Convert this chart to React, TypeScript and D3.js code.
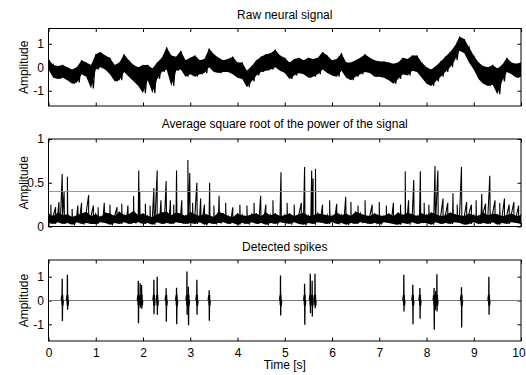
import { useEffect, useRef } from 'react'
import * as d3 from 'd3'

// sampling step of the envelope arrays below (seconds)
const BIN = 0.1

const xTicks = [0, 1, 2, 3, 4, 5, 6, 7, 8, 9, 10]
const ampTicks = [-1, 0, 1]
const powerTicks = [0, 0.5, 1]
const THRESHOLD = 0.4

// Raw neural signal: upper / lower edge of the trace per 0.1 s bin
const rawHi = [
  0.35, 0.1, 0.05, 0.1, 0.0, -0.1, 0.0, 0.3, 0.2, 0.1,
  0.55, 0.65, 0.5, 0.4, 0.1, 0.2, 0.55, 0.3, 0.1, 0.0,
  0.1, 0.1, -0.05, 0.2, 0.4, 0.85, 0.5, 0.45, 0.7, 0.3,
  0.4, 0.5, 0.3, 0.35, 0.8, 0.55, 0.4, 0.3, 0.35, 0.45,
  0.2, 0.2, -0.15, 0.05, 0.3, 0.45, 0.55, 0.6, 0.75, 0.5,
  0.4, 0.2, 0.35, 0.4, 0.3, 0.4, 0.35, 0.4, 0.65, 0.5,
  0.3, 0.35, 0.6, 0.2, 0.2, 0.3, 0.4, 0.55, 0.4, 0.3,
  0.25, 0.25, 0.2, 0.15, 0.2, 0.4, 0.35, 0.5, 0.5, 0.2,
  0.0, -0.1, 0.05, 0.25, 0.45, 0.65, 0.9, 1.3, 1.2, 0.85,
  0.5, 0.2, 0.05, 0.0, 0.1, -0.05, 0.1, 0.4, 0.2, 0.15,
  0.2,
]
const rawLo = [
  -0.1, -0.45, -0.5, -0.45, -0.55, -0.7, -0.65, -0.3, -0.4, -0.9,
  -0.1, 0.0, -0.1, -0.3, -0.6, -0.55, -0.2, -0.4, -0.6, -0.8,
  -1.1, -0.55, -1.1, -0.5, -0.2, -0.1, -0.8, -0.15, -0.1, -0.4,
  -0.3, -0.4, -0.3, -0.25, 0.0, -0.2, -0.25, -0.2, -0.2, -0.3,
  -0.45, -0.5, -0.85, -0.6, -0.35, -0.2, -0.15, -0.1, 0.0, -0.15,
  -0.25, -0.5, -0.35, -0.25, -0.3, -0.45, -0.4, -0.3, -0.1, -0.25,
  -0.35, -0.4, -0.15, -0.45, -0.55, -0.4, -0.3, -0.2, -0.25, -0.4,
  -0.4, -0.45, -0.55, -0.7, -0.5, -0.3, -0.35, -0.15, -0.2, -0.45,
  -0.7, -0.8, -0.6, -0.4, -0.2, 0.0, 0.3, 0.7, 0.6, 0.2,
  -0.1, -0.5, -0.7, -0.8, -0.75, -1.15, -0.6, -0.2, -0.3, -0.45,
  -0.4,
]

// Power signal: dense background band per 0.1 s bin
const powerHi = [
  0.15, 0.12, 0.16, 0.13, 0.14, 0.11, 0.13, 0.15, 0.17, 0.12,
  0.14, 0.11, 0.16, 0.15, 0.12, 0.17, 0.13, 0.14, 0.18, 0.13,
  0.15, 0.12, 0.11, 0.14, 0.16, 0.17, 0.13, 0.16, 0.15, 0.12,
  0.17, 0.14, 0.12, 0.15, 0.13, 0.11, 0.17, 0.15, 0.12, 0.11,
  0.15, 0.13, 0.12, 0.14, 0.15, 0.12, 0.16, 0.13, 0.15, 0.12,
  0.13, 0.15, 0.12, 0.14, 0.16, 0.12, 0.13, 0.15, 0.14, 0.13,
  0.12, 0.16, 0.13, 0.15, 0.12, 0.17, 0.15, 0.13, 0.12, 0.15,
  0.13, 0.12, 0.15, 0.12, 0.16, 0.13, 0.16, 0.14, 0.12, 0.15,
  0.13, 0.16, 0.14, 0.12, 0.13, 0.16, 0.14, 0.13, 0.12, 0.15,
  0.13, 0.12, 0.16, 0.13, 0.15, 0.14, 0.12, 0.13, 0.15, 0.12,
  0.13,
]
const powerLo = [
  0.04, 0.03, 0.05, 0.03, 0.04, 0.02, 0.05, 0.03, 0.04, 0.03,
  0.03, 0.05, 0.04, 0.02, 0.04, 0.03, 0.05, 0.03, 0.04, 0.05,
  0.03, 0.04, 0.02, 0.05, 0.03, 0.04, 0.03, 0.05, 0.04, 0.03,
  0.04, 0.03, 0.05, 0.02, 0.04, 0.03, 0.04, 0.05, 0.03, 0.04,
  0.02, 0.04, 0.03, 0.05, 0.03, 0.04, 0.02, 0.04, 0.03, 0.05,
  0.04, 0.03, 0.05, 0.03, 0.02, 0.04, 0.03, 0.05, 0.04, 0.03,
  0.05, 0.03, 0.04, 0.02, 0.04, 0.03, 0.05, 0.04, 0.03, 0.04,
  0.03, 0.05, 0.04, 0.03, 0.02, 0.04, 0.03, 0.05, 0.03, 0.04,
  0.04, 0.02, 0.05, 0.03, 0.04, 0.03, 0.05, 0.04, 0.02, 0.03,
  0.05, 0.03, 0.04, 0.03, 0.05, 0.02, 0.04, 0.03, 0.05, 0.04,
  0.03,
]
// narrow peaks standing out of the power band
const powerPeaks = [
  { t: 0.05, v: 0.25 }, { t: 0.15, v: 0.22 }, { t: 0.22, v: 0.28 }, { t: 0.29, v: 0.6 },
  { t: 0.33, v: 0.4 }, { t: 0.4, v: 0.57 }, { t: 0.5, v: 0.2 }, { t: 0.62, v: 0.24 },
  { t: 0.7, v: 0.27 }, { t: 0.85, v: 0.36 }, { t: 0.95, v: 0.24 }, { t: 1.05, v: 0.22 },
  { t: 1.18, v: 0.27 }, { t: 1.3, v: 0.25 }, { t: 1.45, v: 0.22 }, { t: 1.55, v: 0.26 },
  { t: 1.68, v: 0.24 }, { t: 1.8, v: 0.35 }, { t: 1.91, v: 0.64 }, { t: 1.93, v: 0.4 },
  { t: 2.05, v: 0.26 }, { t: 2.15, v: 0.24 }, { t: 2.23, v: 0.44 }, { t: 2.3, v: 0.64 },
  { t: 2.38, v: 0.3 }, { t: 2.49, v: 0.52 }, { t: 2.58, v: 0.3 }, { t: 2.65, v: 0.25 },
  { t: 2.71, v: 0.64 }, { t: 2.82, v: 0.3 }, { t: 2.95, v: 0.76 }, { t: 2.99, v: 0.61 },
  { t: 3.05, v: 0.27 }, { t: 3.14, v: 0.5 }, { t: 3.22, v: 0.32 }, { t: 3.3, v: 0.25 },
  { t: 3.41, v: 0.5 }, { t: 3.5, v: 0.24 }, { t: 3.61, v: 0.35 }, { t: 3.75, v: 0.27 },
  { t: 3.9, v: 0.22 }, { t: 4.05, v: 0.25 }, { t: 4.2, v: 0.24 }, { t: 4.35, v: 0.27 },
  { t: 4.49, v: 0.35 }, { t: 4.6, v: 0.25 }, { t: 4.75, v: 0.3 }, { t: 4.92, v: 0.62 },
  { t: 5.05, v: 0.27 }, { t: 5.2, v: 0.25 }, { t: 5.35, v: 0.27 }, { t: 5.42, v: 0.68 },
  { t: 5.57, v: 0.64 }, { t: 5.6, v: 0.55 }, { t: 5.65, v: 0.66 }, { t: 5.8, v: 0.25 },
  { t: 5.95, v: 0.3 }, { t: 6.1, v: 0.26 }, { t: 6.29, v: 0.34 }, { t: 6.4, v: 0.28 },
  { t: 6.55, v: 0.24 }, { t: 6.7, v: 0.3 }, { t: 6.85, v: 0.25 }, { t: 7.0, v: 0.28 },
  { t: 7.15, v: 0.24 }, { t: 7.3, v: 0.27 }, { t: 7.45, v: 0.25 }, { t: 7.55, v: 0.63 },
  { t: 7.62, v: 0.3 }, { t: 7.73, v: 0.53 }, { t: 7.87, v: 0.63 }, { t: 7.95, v: 0.27 },
  { t: 8.05, v: 0.25 }, { t: 8.18, v: 0.69 }, { t: 8.24, v: 0.64 }, { t: 8.35, v: 0.32 },
  { t: 8.45, v: 0.27 }, { t: 8.56, v: 0.38 }, { t: 8.65, v: 0.25 }, { t: 8.74, v: 0.68 },
  { t: 8.85, v: 0.28 }, { t: 8.95, v: 0.25 }, { t: 9.05, v: 0.3 }, { t: 9.17, v: 0.37 },
  { t: 9.25, v: 0.26 }, { t: 9.34, v: 0.58 }, { t: 9.45, v: 0.3 }, { t: 9.55, v: 0.27 },
  { t: 9.65, v: 0.32 }, { t: 9.75, v: 0.25 }, { t: 9.85, v: 0.28 }, { t: 9.95, v: 0.24 },
]

// detected spikes: time, max, min
const spikes = [
  { t: 0.29, hi: 0.91, lo: -0.86 }, { t: 0.4, hi: 1.08, lo: -0.39 },
  { t: 1.9, hi: 0.83, lo: -0.95 }, { t: 1.94, hi: 0.72, lo: -0.3 }, { t: 1.97, hi: 0.65, lo: -0.35 },
  { t: 2.23, hi: 0.87, lo: -0.58 }, { t: 2.3, hi: 1.0, lo: -0.6 }, { t: 2.49, hi: 0.51, lo: -0.89 },
  { t: 2.71, hi: 0.54, lo: -1.0 }, { t: 2.93, hi: 1.22, lo: -0.6 }, { t: 2.96, hi: 0.58, lo: -1.04 },
  { t: 3.14, hi: 0.87, lo: -0.6 }, { t: 3.4, hi: 0.43, lo: -0.85 },
  { t: 4.91, hi: 1.05, lo: -0.63 }, { t: 5.42, hi: 0.7, lo: -1.02 }, { t: 5.54, hi: 1.12, lo: -0.53 },
  { t: 5.58, hi: 0.83, lo: -0.67 }, { t: 5.64, hi: 1.12, lo: -0.32 },
  { t: 7.52, hi: 1.08, lo: -0.46 }, { t: 7.71, hi: 0.66, lo: -1.0 }, { t: 7.86, hi: 0.52, lo: -0.77 },
  { t: 8.16, hi: 0.52, lo: -1.23 }, { t: 8.19, hi: 0.4, lo: -0.4 }, { t: 8.22, hi: 1.1, lo: -0.46 },
  { t: 8.74, hi: 0.56, lo: -1.13 }, { t: 9.32, hi: 1.0, lo: -0.6 },
]

const FONT = "'Liberation Sans', Arial, sans-serif"

export default function App() {
  const svgRef = useRef<SVGSVGElement>(null)

  useEffect(() => {
    const W = 526
    const H = 375
    const svg = d3.select(svgRef.current)
    svg.selectAll('*').remove()
    svg.attr('width', W).attr('height', H)

    const x = d3.scaleLinear().domain([0, 10]).range([48.5, 521])
    const [xl, xr] = x.range()

    // frame + inward ticks, MATLAB style
    const panel = (id: string, y: d3.ScaleLinear<number, number>, ticks: number[], title: string, titleY: number, xLabels: boolean) => {
      const [yb, yt] = y.range()
      const g = svg.append('g')
      g.append('clipPath').attr('id', id)
        .append('rect').attr('x', xl).attr('y', yt).attr('width', xr - xl).attr('height', yb - yt)

      const style = (ax: d3.Selection<SVGGElement, unknown, null, undefined>) => {
        ax.select('.domain').remove()
        ax.selectAll('.tick line').attr('stroke', '#000')
        ax.selectAll('text').attr('fill', '#000').attr('font-size', 12).attr('font-family', FONT)
      }
      g.append('g').attr('transform', `translate(0,${yb})`)
        .call(d3.axisBottom(x).tickValues(xTicks).tickSize(-3.5).tickPadding(7)
          .tickFormat((d) => (xLabels ? String(d) : '')))
        .call(style)
        .call((ax) => ax.selectAll('.tick text').filter((d) => d === 10).attr('dx', -2.5))
      g.append('g').attr('transform', `translate(0,${yt})`)
        .call(d3.axisTop(x).tickValues(xTicks).tickSize(-3.5).tickFormat(() => ''))
        .call(style)
      g.append('g').attr('transform', `translate(${xl},0)`)
        .call(d3.axisLeft(y).tickValues(ticks).tickSize(-3.5).tickPadding(4.5).tickFormat((d) => String(d)))
        .call(style)
      g.append('g').attr('transform', `translate(${xr},0)`)
        .call(d3.axisRight(y).tickValues(ticks).tickSize(-3.5).tickFormat(() => ''))
        .call(style)

      g.append('text')
        .attr('x', (xl + xr) / 2).attr('y', titleY)
        .attr('text-anchor', 'middle')
        .attr('font-family', FONT).attr('font-size', 12)
        .text(title)

      g.append('text')
        .attr('transform', `translate(28,${(yb + yt) / 2}) rotate(-90)`)
        .attr('text-anchor', 'middle')
        .attr('font-family', FONT).attr('font-size', 12)
        .text('Amplitude')

      const plot = g.append('g').attr('clip-path', `url(#${id})`)
      const frame = () =>
        g.append('rect')
          .attr('x', xl).attr('y', yt).attr('width', xr - xl).attr('height', yb - yt)
          .attr('fill', 'none').attr('stroke', '#000').attr('stroke-width', 1)
      return { plot, frame }
    }

    type Pt = [number, number]
    const band = (hi: number[], lo: number[]) =>
      hi.map((h, i) => ({ t: i * BIN, hi: h, lo: lo[i] }))
    const zigzag = (hi: number[], lo: number[]) => {
      const pts: Pt[] = []
      hi.forEach((h, i) => {
        pts.push([i * BIN, h])
        pts.push([i * BIN + BIN / 2, lo[i]])
      })
      return pts
    }

    // --- Raw neural signal
    const yRaw = d3.scaleLinear().domain([-1.65, 1.65]).range([106, 28.5])
    const p1 = panel('clip-raw', yRaw, ampTicks, 'Raw neural signal', 19, false)
    p1.plot.append('path')
      .datum(band(rawHi, rawLo))
      .attr('fill', '#000')
      .attr('d', d3.area<{ t: number; hi: number; lo: number }>()
        .x((d) => x(d.t)).y0((d) => yRaw(d.lo)).y1((d) => yRaw(d.hi)))
    p1.plot.append('path')
      .datum(zigzag(rawHi, rawLo))
      .attr('fill', 'none')
      .attr('stroke', '#000')
      .attr('stroke-width', 1.2)
      .attr('d', d3.line<Pt>().x((d) => x(d[0])).y((d) => yRaw(d[1])))
    p1.frame()

    // --- Average square root of the power
    const yPow = d3.scaleLinear().domain([0, 1]).range([226.5, 139])
    const p2 = panel('clip-pow', yPow, powerTicks, 'Average square root of the power of the signal', 128, false)
    p2.plot.append('path')
      .datum(band(powerHi, powerLo))
      .attr('fill', '#000')
      .attr('d', d3.area<{ t: number; hi: number; lo: number }>()
        .x((d) => x(d.t)).y0((d) => yPow(d.lo)).y1((d) => yPow(d.hi)))
    const powPts = zigzag(powerHi, powerLo)
    powerPeaks.forEach((p) => {
      powPts.push([p.t, p.v])
      powPts.push([p.t + 0.008, 0.06])
    })
    powPts.sort((a, b) => a[0] - b[0])
    p2.plot.append('path')
      .datum(powPts)
      .attr('fill', 'none')
      .attr('stroke', '#000')
      .attr('stroke-width', 1.1)
      .attr('d', d3.line<Pt>().x((d) => x(d[0])).y((d) => yPow(d[1])))
    p2.plot.append('line')
      .attr('x1', xl).attr('x2', xr)
      .attr('y1', yPow(THRESHOLD)).attr('y2', yPow(THRESHOLD))
      .attr('stroke', '#f06060').attr('stroke-width', 0.9)
    p2.frame()

    // --- Detected spikes
    const ySp = d3.scaleLinear().domain([-1.7, 1.7]).range([341, 260])
    const p3 = panel('clip-sp', ySp, ampTicks, 'Detected spikes', 251, true)
    p3.plot.append('line')
      .attr('x1', xl).attr('x2', xr)
      .attr('y1', ySp(0)).attr('y2', ySp(0))
      .attr('stroke', '#7a7a7a').attr('stroke-width', 1)
    const spikeLine = d3.line<Pt>().x((d) => x(d[0])).y((d) => ySp(d[1]))
    p3.plot.selectAll('path.spike')
      .data(spikes)
      .join('path')
      .attr('class', 'spike')
      .attr('fill', 'none')
      .attr('stroke', '#000')
      .attr('stroke-width', 1.3)
      .attr('d', (s) => spikeLine([
        [s.t - 0.02, 0], [s.t - 0.01, 0.22], [s.t - 0.004, -0.2],
        [s.t, s.hi], [s.t + 0.004, s.lo],
        [s.t + 0.01, 0.24], [s.t + 0.016, -0.22], [s.t + 0.024, 0],
      ]))
    p3.frame()

    svg.append('text')
      .attr('x', (xl + xr) / 2).attr('y', 369)
      .attr('text-anchor', 'middle')
      .attr('font-family', FONT).attr('font-size', 12)
      .text('Time [s]')

    return () => {
      svg.selectAll('*').remove()
    }
  }, [])

  return (
    <svg ref={svgRef} style={{ position: 'absolute', left: 0, top: 0, background: '#fff' }} />
  )
}
